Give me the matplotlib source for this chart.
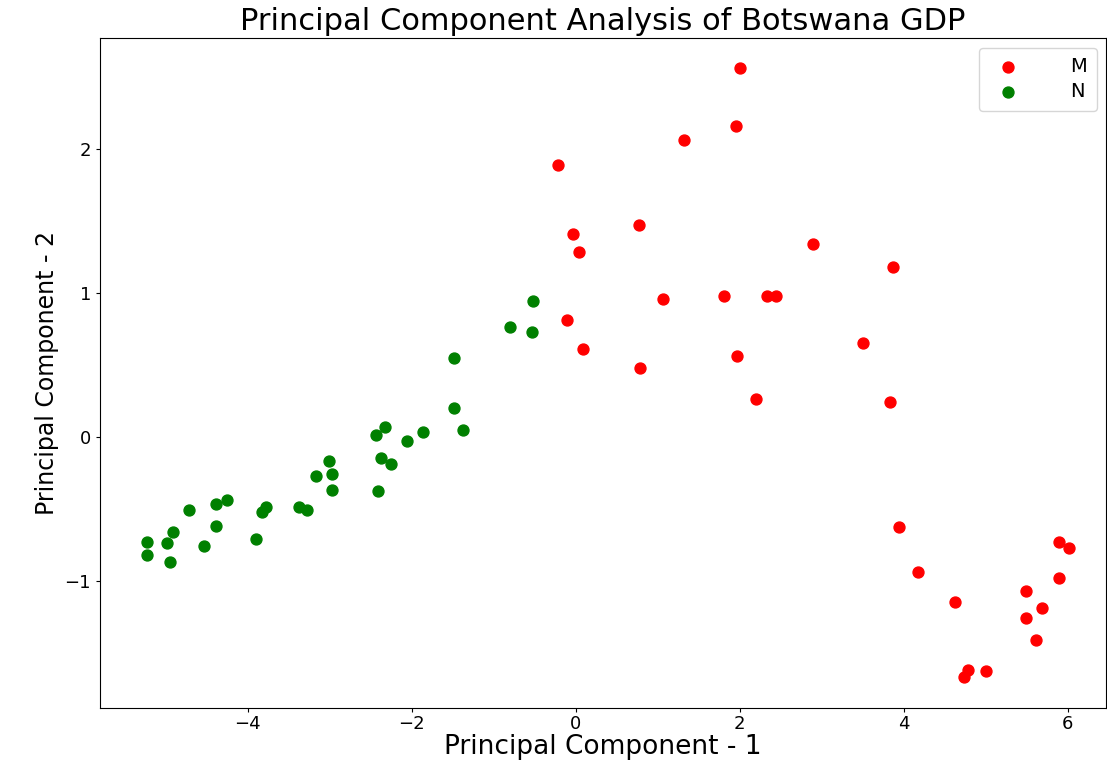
import numpy as np
import matplotlib
matplotlib.use('Agg')
import matplotlib.pyplot as plt

# principal components, group M (red)
m_pc1 = [2.00, 1.95, 1.32, -0.21, -0.03, 0.04, 0.77, 2.90, 3.87, 1.07, 1.81,
         2.33, 2.44, -0.10, 0.09, 0.79, 1.97, 3.50, 2.20, 3.83, 3.94, 4.18,
         4.63, 5.49, 5.69, 5.49, 5.61, 5.90, 6.01, 5.90, 4.78, 4.74, 5.01]
m_pc2 = [2.56, 2.16, 2.06, 1.89, 1.41, 1.28, 1.47, 1.34, 1.18, 0.96, 0.98,
         0.98, 0.98, 0.81, 0.61, 0.48, 0.56, 0.65, 0.26, 0.24, -0.63, -0.94,
         -1.15, -1.07, -1.19, -1.26, -1.41, -0.73, -0.77, -0.98, -1.62, -1.67, -1.63]

# group N (green)
n_pc1 = [-0.52, -0.80, -0.53, -1.48, -1.48, -1.37, -1.86, -2.06, -2.32, -2.43,
         -2.37, -2.25, -2.41, -3.01, -2.97, -3.16, -2.97, -3.37, -3.27, -3.77,
         -3.83, -4.25, -4.39, -4.71, -4.38, -3.90, -4.53, -4.91, -5.23, -4.98,
         -5.23, -4.94]
n_pc2 = [0.94, 0.76, 0.73, 0.55, 0.20, 0.05, 0.03, -0.03, 0.07, 0.01,
         -0.15, -0.19, -0.38, -0.17, -0.26, -0.27, -0.37, -0.49, -0.51, -0.49,
         -0.52, -0.44, -0.47, -0.51, -0.62, -0.71, -0.76, -0.66, -0.73, -0.74,
         -0.82, -0.87]

groups = ['M', 'N']
colors = ['red', 'green']

fig = plt.figure(figsize=(11.07, 7.6), dpi=100)
ax = fig.add_axes([0.0903, 0.0684, 0.909, 0.8816])

for label, color, xs, ys in zip(groups, colors, [m_pc1, n_pc1], [m_pc2, n_pc2]):
    ax.scatter(xs, ys, c=color, s=62, label=label)

ax.set_xlim(-5.8, 6.47)
ax.set_ylim(-1.885, 2.77)
ax.tick_params(axis='both', labelsize=13, length=3)
ax.tick_params(axis='x', pad=2)

ax.set_title('Principal Component Analysis of Botswana GDP', fontsize=22, pad=6)
ax.set_xlabel('Principal Component - 1', fontsize=19, labelpad=1)
ax.set_ylabel('Principal Component - 2', fontsize=17, labelpad=4)

ax.legend(loc='upper right', fontsize=14, handletextpad=2.2, borderpad=0.5,
          labelspacing=0.3)

plt.savefig('out.png', dpi=100)
